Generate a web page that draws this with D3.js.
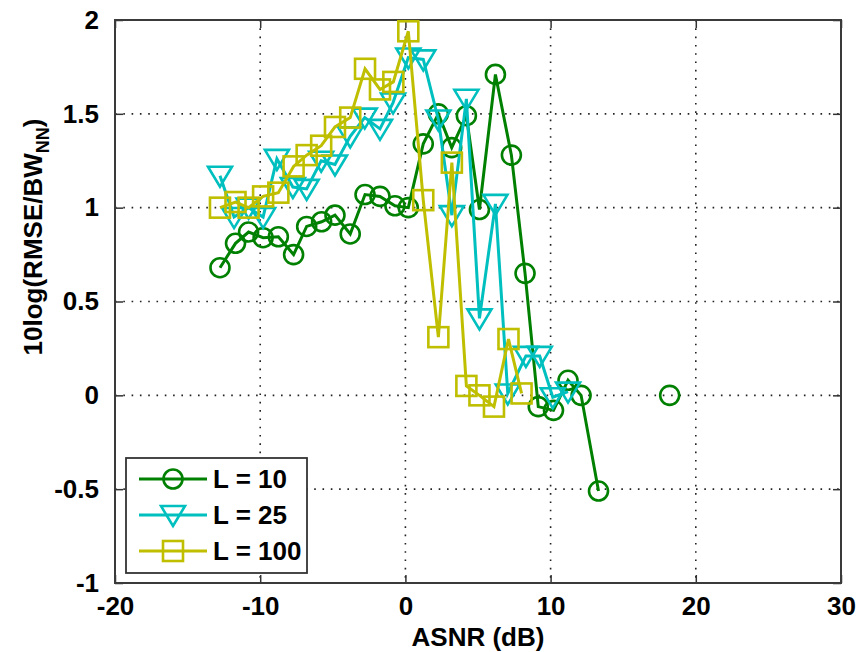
<!DOCTYPE html>
<html>
<head>
<meta charset="utf-8">
<script src="https://cdn.jsdelivr.net/npm/d3@7"></script>
<style>
  html, body { margin: 0; padding: 0; background: #fff; }
  svg { display: block; }
  text { font-family: "Liberation Sans", Arial, sans-serif; fill: #000; font-weight: bold; }
</style>
</head>
<body>
<svg id="chart" width="856" height="652"></svg>
<script>
// ---- data ----
const seriesNames = ["L = 10", "L = 25", "L = 100"];
const asnrL10 = [-12.77,-11.7,-10.8,-9.8,-8.75,-7.7,-6.8,-5.77,-4.85,-3.8,-2.78,-1.75,-0.72,0.2,1.23,2.27,3.19,4.2,5.1,6.2,7.3,8.24,9.15,10.2,11.2,12.1,13.3,15.7,18.2];
const rmseL10 = [0.68,0.81,0.87,0.84,0.845,0.75,0.90,0.925,0.96,0.86,1.07,1.06,1.01,1.0,1.34,1.50,1.32,1.49,0.99,1.71,1.28,0.65,-0.06,-0.08,0.08,0.0,-0.51,null,0.0];
const asnrL25 = [-12.77,-11.8,-10.8,-9.8,-8.85,-7.75,-6.8,-5.8,-4.85,-3.8,-2.8,-1.75,-0.85,0.2,1.23,2.27,3.2,4.2,5.1,6.2,7.05,8.3,9.25,10.15,11.2];
const rmseL25 = [1.17,0.95,1.0,0.95,1.26,1.11,1.10,1.25,1.23,1.38,1.48,1.42,1.56,1.80,1.79,1.47,0.96,1.58,0.41,1.02,0.01,0.21,0.21,-0.01,0.02];
const asnrL100 = [-12.77,-11.7,-10.8,-9.8,-8.75,-7.7,-6.8,-5.8,-4.85,-3.8,-2.78,-1.75,-0.83,0.2,1.23,2.27,3.2,4.2,5.1,6.1,7.1,8.0];
const rmseL100 = [1.0,1.03,1.0,1.06,1.08,1.22,1.28,1.33,1.43,1.48,1.74,1.63,1.67,1.94,1.04,0.31,1.24,0.05,0.0,-0.06,0.30,0.01];
const xTicks = [-20,-10,0,10,20,30];
const yTicks = [-1,-0.5,0,0.5,1,1.5,2];
const xLabel = "ASNR (dB)";

// ---- layout ----
const W = 856, H = 652;
const m = {left: 115, top: 20, right: 15, bottom: 69};
const pw = W - m.left - m.right, ph = H - m.top - m.bottom;
const svg = d3.select("#chart");
const g = svg.append("g").attr("transform", `translate(${m.left},${m.top})`);

const x = d3.scaleLinear().domain([-20, 30]).range([0, pw]);
const y = d3.scaleLinear().domain([-1, 2]).range([ph, 0]);

// grid
g.append("g").selectAll("line.gx").data(xTicks.slice(1, -1)).join("line")
  .attr("x1", d => x(d)).attr("x2", d => x(d)).attr("y1", 0).attr("y2", ph)
  .attr("stroke", "#222").attr("stroke-width", 1.6).attr("stroke-dasharray", "1.6,6.7");
g.append("g").selectAll("line.gy").data(yTicks.slice(1, -1)).join("line")
  .attr("y1", d => y(d)).attr("y2", d => y(d)).attr("x1", 0).attr("x2", pw)
  .attr("stroke", "#222").attr("stroke-width", 1.6).attr("stroke-dasharray", "1.6,6.7");

// axes
const fmt = d => String(d);
const axB = g.append("g").attr("transform", `translate(0,${ph})`)
  .call(d3.axisBottom(x).tickValues(xTicks).tickFormat(fmt).tickSizeInner(-8).tickSizeOuter(0).tickPadding(14));
const axT = g.append("g")
  .call(d3.axisTop(x).tickValues(xTicks).tickFormat("").tickSizeInner(-8).tickSizeOuter(0));
const axL = g.append("g")
  .call(d3.axisLeft(y).tickValues(yTicks).tickFormat(fmt).tickSizeInner(-8).tickSizeOuter(0).tickPadding(16));
const axR = g.append("g").attr("transform", `translate(${pw},0)`)
  .call(d3.axisRight(y).tickValues(yTicks).tickFormat("").tickSizeInner(-8).tickSizeOuter(0));
[axB, axT, axL, axR].forEach(a => {
  a.select(".domain").remove();
  a.selectAll(".tick line").attr("stroke", "#333").attr("stroke-width", 1.5);
  a.selectAll("text").attr("font-size", 26).attr("font-family", "Liberation Sans, Arial, sans-serif")
    .attr("font-weight", "bold").attr("fill", "#000");
});
axB.selectAll(".tick text").attr("dy", "0.71em");
g.append("rect").attr("x", 0).attr("y", 0).attr("width", pw).attr("height", ph)
  .attr("fill", "none").attr("stroke", "#3a3a3a").attr("stroke-width", 2);

// series
const colors = ["#008000", "#00bfbf", "#bfbf00"];
const series = [
  {name: seriesNames[0], xs: asnrL10, ys: rmseL10, color: colors[0], marker: "circle"},
  {name: seriesNames[1], xs: asnrL25, ys: rmseL25, color: colors[1], marker: "tri"},
  {name: seriesNames[2], xs: asnrL100, ys: rmseL100, color: colors[2], marker: "square"}
];
function drawMarker(sel, type, color) {
  if (type === "circle") {
    sel.append("circle").attr("r", 9.5).attr("fill", "none").attr("stroke", color).attr("stroke-width", 2.6);
  } else if (type === "tri") {
    sel.append("path").attr("d", "M-12,-9L12,-9L0,11Z").attr("fill", "none").attr("stroke", color).attr("stroke-width", 2.6).attr("stroke-linejoin", "miter");
  } else {
    sel.append("rect").attr("x", -10).attr("y", -10).attr("width", 20).attr("height", 20).attr("fill", "none").attr("stroke", color).attr("stroke-width", 2.6);
  }
}
const line = d3.line().defined(d => d[1] !== null).x(d => x(d[0])).y(d => y(d[1]));
series.forEach(s => {
  const pts = s.xs.map((v, i) => [v, s.ys[i]]);
  const sg = g.append("g");
  sg.append("path").datum(pts).attr("d", line).attr("fill", "none")
    .attr("stroke", s.color).attr("stroke-width", 3).attr("stroke-linejoin", "miter");
  pts.filter(d => d[1] !== null).forEach(d => {
    const mg = sg.append("g").attr("transform", `translate(${x(d[0])},${y(d[1])})`);
    drawMarker(mg, s.marker, s.color);
  });
});

// legend
const lg = svg.append("g");
lg.append("rect").attr("x", 126).attr("y", 458).attr("width", 181).attr("height", 115)
  .attr("fill", "#fff").attr("stroke", "#333").attr("stroke-width", 1.8);
const rowsY = [479, 515, 551];
series.forEach((s, i) => {
  const ry = rowsY[i];
  lg.append("line").attr("x1", 139).attr("x2", 207).attr("y1", ry).attr("y2", ry)
    .attr("stroke", s.color).attr("stroke-width", 3);
  const mg = lg.append("g").attr("transform", `translate(173,${ry})`);
  drawMarker(mg, s.marker, s.color);
  lg.append("text").attr("x", 213).attr("y", ry).attr("dy", "0.36em").attr("font-size", 26).text(s.name);
});

// axis labels
svg.append("text").attr("x", m.left + pw / 2).attr("y", 646).attr("text-anchor", "middle")
  .attr("font-size", 26).text(xLabel);
const yl = svg.append("text").attr("transform", "translate(42,237) rotate(-90)").attr("text-anchor", "middle").attr("font-size", 26);
yl.append("tspan").text("10log(RMSE/BW");
yl.append("tspan").attr("font-size", 18).attr("dy", 7).text("NN");
yl.append("tspan").attr("dy", -7).text(")");
</script>
</body>
</html>
